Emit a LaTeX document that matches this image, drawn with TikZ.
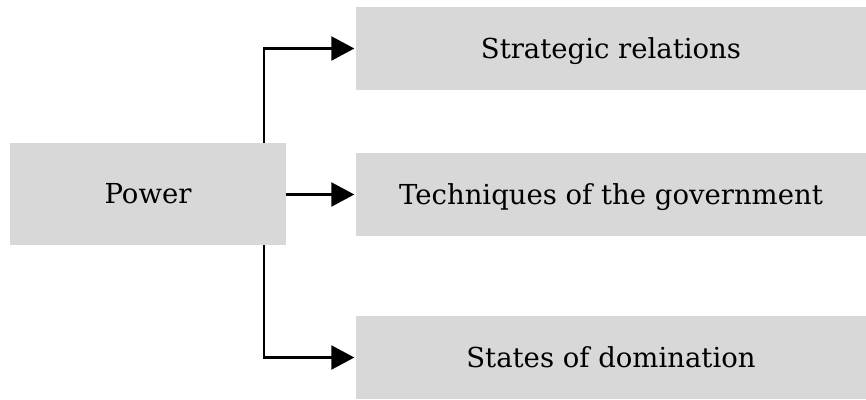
\documentclass[tikz,border=0pt]{standalone}
\usepackage{fontspec}
\setmainfont{DejaVu Serif}
\usetikzlibrary{arrows.meta}
\definecolor{boxgray}{HTML}{D8D8D8}
\begin{document}
\begin{tikzpicture}[x=1pt,y=-1pt,
  box/.style={rectangle,fill=boxgray,inner sep=0pt,align=center,
    text height=19pt,text depth=0pt,
    font=\fontsize{27.5}{33}\selectfont},
  conn/.style={line width=2.4pt,-{Triangle[length=23pt,width=24pt]},shorten >=1.5pt}]
\useasboundingbox (0,0) rectangle (866,399);
\node[box,minimum width=276pt,minimum height=102pt] (p) at (148,194) {Power};
\node[box,minimum width=510pt,minimum height=83pt] (s) at (611,48.5) {Strategic relations};
\node[box,minimum width=510pt,minimum height=83pt] (t) at (611,194.5) {Techniques of the government};
\node[box,minimum width=510pt,minimum height=83pt] (d) at (611,357.5) {States of domination};
\coordinate (vx) at (264,0);
\draw[conn] (p.north -| vx) |- (s.west);
\draw[conn] (t.west -| p.east) -- (t.west);
\draw[conn] (p.south -| vx) |- (d.west);
\end{tikzpicture}
\end{document}
